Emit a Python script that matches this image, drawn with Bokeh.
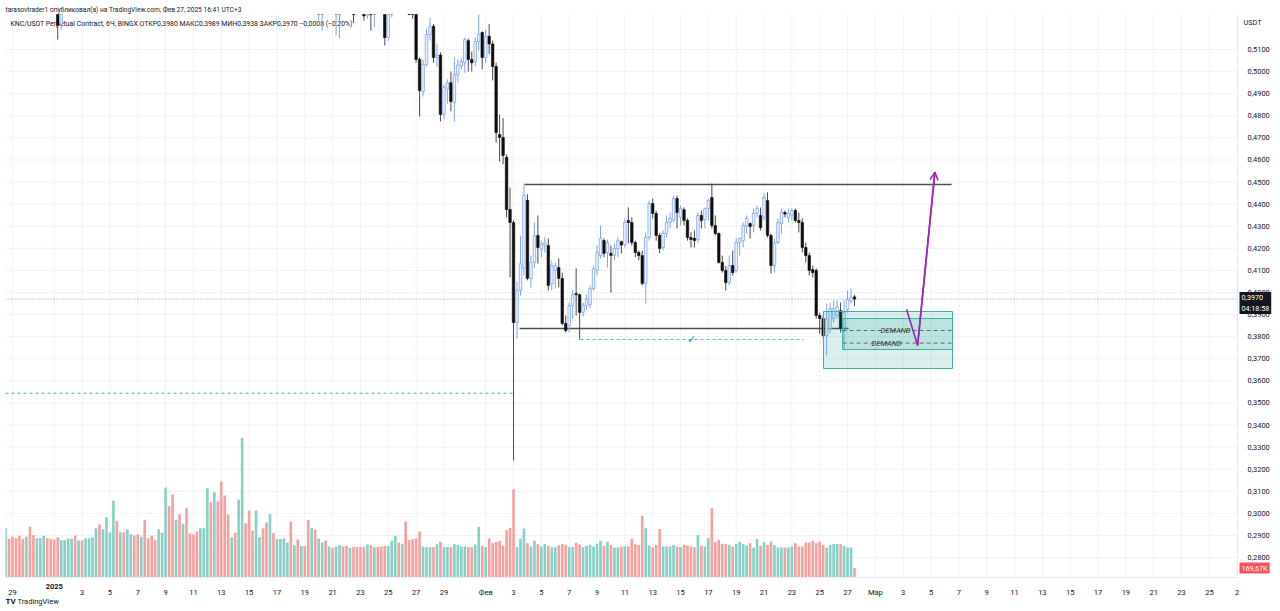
import pandas as pd
from bokeh.plotting import figure
from bokeh.models import (Range1d, FixedTicker, CustomJSTickFormatter, Label, LinearAxis,
                          Arrow, OpenHead, ColumnDataSource)
from bokeh.core.properties import value
from bokeh.embed import file_html
from bokeh.resources import INLINE

# ---------------- data ----------------
first_bar = "2024-12-28 15:00"   # 6h bars (UTC+3), first bar of each day opens 03:00
day_zero = "2024-12-29 00:00"
first_bar_of_day = 0.125         # 03:00 as a fraction of a day (where date labels sit)

opens = [
    0.5480, 0.5520, 0.5490, 0.5455, 0.5430, 0.5395, 0.5370, 0.5415, 0.5360, 0.5330,
    0.5365, 0.5410, 0.5425, 0.5350, 0.5320, 0.5290, 0.5215, 0.5310, 0.5380, 0.5395,
    0.5420, 0.5395, 0.5450, 0.5425, 0.5470, 0.5480, 0.5490, 0.5560, 0.5510, 0.5570,
    0.5650, 0.5690, 0.5840, 0.5760, 0.5775, 0.5680, 0.5730, 0.5770, 0.5740, 0.5700,
    0.5715, 0.5590, 0.5560, 0.5530, 0.5500, 0.5560, 0.5600, 0.5780, 0.5680, 0.5570,
    0.5620, 0.5570, 0.5610, 0.5540, 0.5510, 0.5480, 0.5450, 0.5490, 0.5530, 0.5710,
    0.5630, 0.5720, 0.5640, 0.5510, 0.5440, 0.5400, 0.5430, 0.5400, 0.5510, 0.5860,
    0.5750, 0.5680, 0.5650, 0.5730, 0.5760, 0.5710, 0.5650, 0.5710, 0.5670, 0.5690,
    0.5720, 0.5730, 0.5740, 0.5560, 0.5590, 0.5520, 0.5540, 0.5490, 0.5400, 0.5430,
    0.5350, 0.5380, 0.5400, 0.5340, 0.5370, 0.5355, 0.5370, 0.5385, 0.5340, 0.5320,
    0.5330, 0.5290, 0.5285, 0.5280, 0.5252, 0.5300, 0.5275, 0.5310, 0.5295, 0.5285,
    0.5154, 0.5290, 0.5320, 0.5330, 0.5300, 0.5330, 0.5290, 0.5275, 0.5260, 0.5055,
    0.4910, 0.5032, 0.5168, 0.5205, 0.5064, 0.5075, 0.4806, 0.4920, 0.4950, 0.4860,
    0.4985, 0.5025, 0.5040, 0.5140, 0.5055, 0.5045, 0.5136, 0.5177, 0.5064, 0.5160,
    0.5125, 0.5023, 0.4715, 0.4702, 0.4612, 0.4376, 0.4317, 0.3864, 0.4010, 0.4110,
    0.4417, 0.4064, 0.4136, 0.4258, 0.4195, 0.4215, 0.4213, 0.4040, 0.4100, 0.4113,
    0.4064, 0.3860, 0.3851, 0.3940, 0.3995, 0.3990, 0.3910, 0.3940, 0.3945, 0.4018,
    0.4100, 0.4167, 0.4235, 0.4180, 0.4177, 0.4168, 0.4199, 0.4230, 0.4217, 0.4326,
    0.4317, 0.4226, 0.4181, 0.4167, 0.4041, 0.4249, 0.4403, 0.4358, 0.4258, 0.4204,
    0.4267, 0.4317, 0.4326, 0.4426, 0.4340, 0.4375, 0.4326, 0.4249, 0.4245, 0.4240,
    0.4349, 0.4330, 0.4380, 0.4430, 0.4303, 0.4267, 0.4136, 0.4100, 0.4045, 0.4122,
    0.4100, 0.4226, 0.4235, 0.4300, 0.4312, 0.4303, 0.4358, 0.4349, 0.4340, 0.4416,
    0.4258, 0.4122, 0.4226, 0.4312, 0.4362, 0.4340, 0.4350, 0.4371, 0.4326, 0.4317,
    0.4204, 0.4167, 0.4104, 0.4100, 0.3896, 0.3882, 0.3805, 0.3837, 0.3882, 0.3896,
    0.3918, 0.3841, 0.3923, 0.3960, 0.3980,
]
highs = [
    0.5545, 0.5540, 0.5510, 0.5475, 0.5450, 0.5420, 0.5440, 0.5430, 0.5380, 0.5390,
    0.5430, 0.5440, 0.5435, 0.5365, 0.5340, 0.5310, 0.5335, 0.5400, 0.5410, 0.5440,
    0.5435, 0.5470, 0.5465, 0.5490, 0.5495, 0.5510, 0.5590, 0.5585, 0.5600, 0.5680,
    0.5720, 0.5900, 0.5870, 0.5795, 0.5790, 0.5750, 0.5800, 0.5790, 0.5755, 0.5730,
    0.5725, 0.5605, 0.5575, 0.5545, 0.5580, 0.5625, 0.5840, 0.5810, 0.5700, 0.5645,
    0.5635, 0.5630, 0.5625, 0.5555, 0.5525, 0.5495, 0.5510, 0.5550, 0.5760, 0.5740,
    0.5770, 0.5745, 0.5660, 0.5525, 0.5455, 0.5450, 0.5445, 0.5530, 0.5950, 0.5890,
    0.5770, 0.5695, 0.5750, 0.5780, 0.5775, 0.5725, 0.5730, 0.5725, 0.5710, 0.5740,
    0.5745, 0.5760, 0.5750, 0.5610, 0.5600, 0.5560, 0.5550, 0.5500, 0.5450, 0.5440,
    0.5400, 0.5420, 0.5410, 0.5390, 0.5400, 0.5390, 0.5400, 0.5395, 0.5355, 0.5345,
    0.5340, 0.5305, 0.5300, 0.5295, 0.5320, 0.5315, 0.5330, 0.5340, 0.5310, 0.5300,
    0.5310, 0.5340, 0.5350, 0.5340, 0.5350, 0.5345, 0.5310, 0.5295, 0.5275, 0.5064,
    0.5055, 0.5195, 0.5245, 0.5215, 0.5125, 0.5087, 0.4942, 0.4965, 0.5000, 0.5064,
    0.5055, 0.5060, 0.5154, 0.5150, 0.5091, 0.5154, 0.5262, 0.5182, 0.5190, 0.5215,
    0.5140, 0.5040, 0.4806, 0.4790, 0.4625, 0.4475, 0.4326, 0.4050, 0.4258, 0.4493,
    0.4445, 0.4167, 0.4317, 0.4349, 0.4235, 0.4250, 0.4245, 0.4145, 0.4136, 0.4154,
    0.4090, 0.3896, 0.3955, 0.4010, 0.4109, 0.3995, 0.3955, 0.3990, 0.4032, 0.4122,
    0.4213, 0.4303, 0.4245, 0.4240, 0.4213, 0.4222, 0.4249, 0.4235, 0.4335, 0.4385,
    0.4340, 0.4235, 0.4190, 0.4190, 0.4272, 0.4416, 0.4425, 0.4370, 0.4270, 0.4281,
    0.4349, 0.4362, 0.4439, 0.4439, 0.4394, 0.4385, 0.4335, 0.4272, 0.4281, 0.4362,
    0.4371, 0.4385, 0.4425, 0.4493, 0.4349, 0.4272, 0.4167, 0.4120, 0.4167, 0.4190,
    0.4245, 0.4249, 0.4317, 0.4349, 0.4317, 0.4380, 0.4394, 0.4385, 0.4448, 0.4453,
    0.4267, 0.4245, 0.4335, 0.4380, 0.4371, 0.4380, 0.4380, 0.4380, 0.4362, 0.4335,
    0.4226, 0.4181, 0.4122, 0.4109, 0.3909, 0.3896, 0.3950, 0.3955, 0.3964, 0.3964,
    0.3955, 0.3964, 0.4009, 0.4018, 0.3989,
]
lows = [
    0.5460, 0.5470, 0.5440, 0.5410, 0.5380, 0.5350, 0.5355, 0.5340, 0.5310, 0.5315,
    0.5350, 0.5395, 0.5335, 0.5300, 0.5275, 0.5145, 0.5190, 0.5290, 0.5350, 0.5380,
    0.5375, 0.5380, 0.5405, 0.5410, 0.5440, 0.5460, 0.5470, 0.5490, 0.5495, 0.5550,
    0.5630, 0.5670, 0.5730, 0.5720, 0.5655, 0.5660, 0.5715, 0.5720, 0.5680, 0.5670,
    0.5570, 0.5540, 0.5510, 0.5480, 0.5485, 0.5545, 0.5590, 0.5660, 0.5540, 0.5555,
    0.5550, 0.5555, 0.5520, 0.5490, 0.5460, 0.5430, 0.5435, 0.5475, 0.5515, 0.5610,
    0.5615, 0.5620, 0.5480, 0.5420, 0.5380, 0.5385, 0.5380, 0.5390, 0.5500, 0.5730,
    0.5660, 0.5630, 0.5635, 0.5715, 0.5690, 0.5630, 0.5635, 0.5650, 0.5655, 0.5675,
    0.5690, 0.5700, 0.5540, 0.5545, 0.5500, 0.5480, 0.5455, 0.5380, 0.5385, 0.5330,
    0.5230, 0.5186, 0.5320, 0.5325, 0.5330, 0.5163, 0.5150, 0.5320, 0.5300, 0.5290,
    0.5220, 0.5265, 0.5262, 0.5231, 0.5240, 0.5186, 0.5200, 0.5280, 0.5265, 0.5118,
    0.5140, 0.5245, 0.5300, 0.5280, 0.5285, 0.5270, 0.5255, 0.5240, 0.5040, 0.4797,
    0.4887, 0.5023, 0.5140, 0.5040, 0.5020, 0.4774, 0.4783, 0.4855, 0.4820, 0.4774,
    0.4950, 0.5010, 0.4995, 0.5000, 0.5000, 0.5023, 0.5095, 0.5010, 0.5040, 0.5080,
    0.4960, 0.4679, 0.4593, 0.4580, 0.4340, 0.4068, 0.3240, 0.3790, 0.3986, 0.4077,
    0.4055, 0.4023, 0.4109, 0.4131, 0.4160, 0.4180, 0.4009, 0.4009, 0.4018, 0.4023,
    0.3851, 0.3819, 0.3819, 0.3880, 0.3896, 0.3787, 0.3890, 0.3920, 0.3928, 0.4009,
    0.4077, 0.4154, 0.4159, 0.4113, 0.4000, 0.4145, 0.4160, 0.4177, 0.4204, 0.4222,
    0.4213, 0.4159, 0.4145, 0.4032, 0.3950, 0.4235, 0.4335, 0.4235, 0.4177, 0.4190,
    0.4249, 0.4290, 0.4317, 0.4290, 0.4303, 0.4303, 0.4235, 0.4204, 0.4204, 0.4225,
    0.4290, 0.4290, 0.4326, 0.4290, 0.4258, 0.4131, 0.4090, 0.4009, 0.4032, 0.4077,
    0.4090, 0.4167, 0.4204, 0.4267, 0.4244, 0.4272, 0.4340, 0.4281, 0.4326, 0.4249,
    0.4086, 0.4090, 0.4220, 0.4267, 0.4340, 0.4317, 0.4326, 0.4317, 0.4272, 0.4181,
    0.4136, 0.4077, 0.4068, 0.3882, 0.3814, 0.3792, 0.3715, 0.3814, 0.3864, 0.3882,
    0.3819, 0.3737, 0.3909, 0.3950, 0.3938,
]
closes = [
    0.5520, 0.5490, 0.5455, 0.5430, 0.5395, 0.5370, 0.5415, 0.5360, 0.5330, 0.5365,
    0.5410, 0.5425, 0.5350, 0.5320, 0.5290, 0.5210, 0.5310, 0.5380, 0.5395, 0.5420,
    0.5395, 0.5450, 0.5425, 0.5470, 0.5480, 0.5490, 0.5560, 0.5510, 0.5570, 0.5650,
    0.5690, 0.5840, 0.5760, 0.5775, 0.5680, 0.5730, 0.5770, 0.5740, 0.5700, 0.5715,
    0.5590, 0.5560, 0.5530, 0.5500, 0.5560, 0.5600, 0.5780, 0.5680, 0.5570, 0.5620,
    0.5570, 0.5610, 0.5540, 0.5510, 0.5480, 0.5450, 0.5490, 0.5530, 0.5710, 0.5630,
    0.5720, 0.5640, 0.5510, 0.5440, 0.5400, 0.5430, 0.5400, 0.5510, 0.5860, 0.5750,
    0.5680, 0.5650, 0.5730, 0.5760, 0.5710, 0.5650, 0.5710, 0.5670, 0.5690, 0.5720,
    0.5730, 0.5740, 0.5560, 0.5590, 0.5520, 0.5540, 0.5490, 0.5400, 0.5430, 0.5350,
    0.5380, 0.5400, 0.5340, 0.5370, 0.5355, 0.5370, 0.5385, 0.5340, 0.5320, 0.5330,
    0.5290, 0.5285, 0.5280, 0.5252, 0.5300, 0.5275, 0.5310, 0.5295, 0.5285, 0.5154,
    0.5290, 0.5320, 0.5330, 0.5300, 0.5330, 0.5290, 0.5275, 0.5260, 0.5055, 0.4914,
    0.5032, 0.5168, 0.5205, 0.5064, 0.5075, 0.4806, 0.4928, 0.4950, 0.4865, 0.4987,
    0.5030, 0.5045, 0.5145, 0.5055, 0.5040, 0.5136, 0.5168, 0.5064, 0.5160, 0.5125,
    0.5023, 0.4724, 0.4702, 0.4620, 0.4376, 0.4317, 0.3864, 0.4010, 0.4130, 0.4439,
    0.4064, 0.4136, 0.4258, 0.4204, 0.4220, 0.4225, 0.4032, 0.4122, 0.4122, 0.4064,
    0.3860, 0.3828, 0.3941, 0.3990, 0.3990, 0.3910, 0.3940, 0.3970, 0.4018, 0.4109,
    0.4181, 0.4244, 0.4177, 0.4226, 0.4168, 0.4199, 0.4235, 0.4215, 0.4317, 0.4317,
    0.4226, 0.4181, 0.4167, 0.4041, 0.4249, 0.4403, 0.4358, 0.4258, 0.4199, 0.4267,
    0.4317, 0.4335, 0.4426, 0.4362, 0.4380, 0.4326, 0.4249, 0.4240, 0.4235, 0.4349,
    0.4326, 0.4380, 0.4416, 0.4303, 0.4267, 0.4136, 0.4100, 0.4045, 0.4122, 0.4090,
    0.4226, 0.4245, 0.4303, 0.4335, 0.4299, 0.4358, 0.4380, 0.4294, 0.4430, 0.4258,
    0.4122, 0.4226, 0.4317, 0.4362, 0.4355, 0.4358, 0.4371, 0.4326, 0.4317, 0.4204,
    0.4167, 0.4100, 0.4090, 0.3896, 0.3882, 0.3805, 0.3880, 0.3927, 0.3927, 0.3937,
    0.3837, 0.3909, 0.3968, 0.3978, 0.3970,
]
volume_k = [
    898, 704, 741, 716, 759, 704, 741, 923, 771, 716,
    716, 759, 716, 704, 692, 734, 680, 680, 704, 704,
    765, 680, 680, 716, 716, 728, 898, 965, 880, 1099,
    819, 1402, 1032, 826, 826, 874, 789, 765, 789, 741,
    1050, 716, 759, 686, 880, 813, 1639, 1299, 1511, 1050,
    1153, 977, 1269, 801, 789, 838, 898, 898, 1627, 1372,
    1554, 1384, 1748, 1493, 1141, 734, 813, 1414, 2540, 989,
    1214, 850, 1220, 734, 898, 1002, 1153, 807, 698, 698,
    710, 637, 1020, 589, 692, 571, 571, 1050, 898, 868,
    710, 637, 668, 565, 540, 565, 589, 565, 577, 540,
    558, 558, 558, 558, 601, 589, 552, 558, 565, 571,
    571, 668, 759, 637, 613, 1020, 680, 698, 716, 838,
    565, 552, 553, 553, 607, 649, 553, 553, 553, 613,
    589, 565, 565, 553, 553, 601, 922, 577, 553, 708,
    625, 649, 666, 577, 863, 904, 1607, 553, 708, 893,
    625, 565, 672, 607, 565, 613, 577, 553, 553, 589,
    613, 595, 553, 553, 631, 601, 553, 577, 595, 565,
    613, 668, 577, 649, 595, 546, 546, 558, 565, 565,
    704, 607, 595, 1129, 898, 583, 546, 589, 880, 565,
    565, 565, 595, 558, 552, 595, 577, 565, 552, 771,
    583, 565, 716, 1263, 643, 686, 613, 613, 595, 565,
    613, 649, 607, 583, 625, 546, 698, 577, 643, 595,
    656, 589, 546, 546, 546, 546, 565, 625, 565, 565,
    637, 637, 668, 625, 656, 595, 546, 589, 607, 613,
    607, 577, 546, 546, 169.67,
]

price_ticks = [0.28, 0.29, 0.30, 0.31, 0.32, 0.33, 0.34, 0.35, 0.36, 0.37, 0.38, 0.39,
               0.40, 0.41, 0.42, 0.43, 0.44, 0.45, 0.46, 0.47, 0.48, 0.49, 0.50, 0.51]
tick_days = [0, 3, 5, 7, 9, 11, 13, 15, 17, 19, 21, 23, 25, 27, 29, 31,
             34, 36, 38, 40, 42, 44, 46, 48, 50, 52, 54, 56, 58, 60,
             62, 64, 66, 68, 70, 72, 74, 76, 78, 80, 82, 84, 86, 88]
tick_labels = ["29", "2025", "3", "5", "7", "9", "11", "13", "15", "17", "19", "21", "23", "25", "27", "29",
               "Фев", "3", "5", "7", "9", "11", "13", "15", "17", "19", "21", "23", "25", "27",
               "Мар", "3", "5", "7", "9", "11", "13", "15", "17", "19", "21", "23", "25", "2"]
bold_tick = "2025"

last_close = 0.3970
last_close_text = "0,3970"
countdown = "04:18:58"
last_volume_text = "169,67K"

range_high = 0.4489
range_high_days = [36.92, 67.60]
range_low = 0.3837
range_low_days = [36.56, 60.20]
swept_level = 0.3787
swept_days = [40.94, 56.97]
swept_mark_day = 48.92
old_low_level = 0.3544
old_low_days = [-0.378, 36.06]
demand_left = [58.40, 59.77]
demand_right = [67.67, 67.67]
demand_bottom = [0.3656, 0.3742]
demand_top = [0.3914, 0.3882]
demand_lines = [0.3828, 0.3771]
demand_label_days = [63.58, 62.93]
arrow_days = [64.37, 65.16, 66.40]
arrow_prices = [0.3923, 0.3760, 0.4545]

header_1 = "tarasovtrader1 опубликовал(а) на TradingView.com, Фев 27, 2025 16:41 UTC+3"
header_2 = ("KNC/USDT Perpetual Contract, 6Ч, BINGX  ОТКР0,3980  МАКС0,3989  "
            "МИН0,3938  ЗАКР0,3970  \u22120,0008 (\u22120,20%)")

# ---------------- layout ----------------
W, H = 1280, 611
# chart pane in canvas pixels, and the data values at its edges
PL, PR, PT, PB = 5, 1237, 14, 577
X_PL, X_PR = -0.378, 88.145
Y_PT, Y_PB = 0.52584, 0.27098
VOL_PANE = 10250  # volume (K) spanning the pane height
FONT = "Roboto"
TXT = "#131722"

XPX = (X_PR - X_PL) / (PR - PL)
YPX = (Y_PT - Y_PB) / (PB - PT)
VPX = VOL_PANE / (PB - PT)


def dx(px):
    return X_PL + (px - PL) * XPX


def dy(py):
    return Y_PT - (py - PT) * YPX


times = pd.date_range(first_bar, periods=len(closes), freq="6h")
xs = ((times - pd.Timestamp(day_zero)) / pd.Timedelta(days=1)).tolist()
up = [c >= o for o, c in zip(opens, closes)]
tick_x = [d + first_bar_of_day for d in tick_days]

# the plotting frame covers the whole canvas; the chart pane is bounded with masks
p = figure(width=W, height=H, output_backend="svg", toolbar_location=None,
           x_range=Range1d(dx(0), dx(W)), y_range=Range1d(dy(H), dy(0)),
           x_axis_location=None, y_axis_location=None,
           min_border=0, min_border_left=0, min_border_right=0,
           min_border_top=0, min_border_bottom=0)
p.outline_line_color = None
p.background_fill_color = "white"
p.border_fill_color = "white"
p.xgrid.visible = False
p.ygrid.visible = False
p.extra_y_ranges = {"vol": Range1d(-(H - PB) * VPX, PB * VPX)}

# grid
GRID = "#f0f2f6"
p.segment(x0=tick_x, y0=[Y_PB] * len(tick_x), x1=tick_x, y1=[Y_PT] * len(tick_x),
          line_color=GRID, line_width=1)
p.segment(x0=[X_PL] * len(price_ticks), y0=price_ticks, x1=[X_PR] * len(price_ticks), y1=price_ticks,
          line_color=GRID, line_width=1)

# legend line of the chart (drawn under the candles, as in the original)
p.text(x=[dx(10)], y=[dy(23)], text=[header_2], text_baseline="middle", text_align="left",
       text_font=value(FONT), text_font_size="6.9px", text_color=TXT)

# volume
vol_colors = ["#86d0c6" if u else "#f6a1a1" for u in up]
p.vbar(x=xs, top=volume_k, bottom=0, width=0.19, fill_color=vol_colors,
       line_color=None, y_range_name="vol")

# reference lines
p.segment(x0=[old_low_days[0]], y0=[old_low_level], x1=[old_low_days[1]], y1=[old_low_level],
          line_color="#48b8c8", line_dash="3 3", line_width=1)
p.segment(x0=[swept_days[0]], y0=[swept_level], x1=[swept_days[1]], y1=[swept_level],
          line_color="#48b8c8", line_dash="3 3", line_width=1)
p.segment(x0=[X_PL], y0=[last_close], x1=[X_PR], y1=[last_close],
          line_color="#9598a1", line_dash="1 2", line_width=1)
p.segment(x0=[range_high_days[0], range_low_days[0]], y0=[range_high, range_low],
          x1=[range_high_days[1], range_low_days[1]], y1=[range_high, range_low],
          line_color="#4d4d4d", line_width=1.4)


# candles, cut at the top edge of the chart pane (bars entirely above it are not drawn)
def pane(v):
    return min(v, Y_PT)


def candle_source(flag):
    keep = [i for i in range(len(closes)) if up[i] == flag and lows[i] < Y_PT]
    return ColumnDataSource(dict(
        x=[xs[i] for i in keep],
        o=[pane(opens[i]) for i in keep],
        h=[pane(highs[i]) for i in keep],
        l=[lows[i] for i in keep],
        c=[pane(closes[i]) for i in keep],
    ))


up_src = candle_source(True)
dn_src = candle_source(False)
p.segment(x0="x", y0="h", x1="x", y1="l", source=dn_src, line_color="#4a4a4a", line_width=1)
p.segment(x0="x", y0="h", x1="x", y1="l", source=up_src, line_color="#7fa4ee", line_width=1)
p.vbar(x="x", top="o", bottom="c", width=0.18, source=dn_src, fill_color="#0e0e0e",
       line_color="#0e0e0e", line_width=0.6)
p.vbar(x="x", top="c", bottom="o", width=0.18, source=up_src, fill_color="#eef3fd",
       line_color="#7fa4ee", line_width=0.8)

# demand zones
p.quad(left=demand_left, right=demand_right, bottom=demand_bottom, top=demand_top,
       fill_color="#26a69a", fill_alpha=0.17, line_color="#3fae9f", line_width=1)
p.segment(x0=[demand_left[1]] * 2, y0=demand_lines, x1=[demand_right[1]] * 2, y1=demand_lines,
          line_color="#666666", line_dash="4 3", line_width=1)

# projected move
p.line(arrow_days, arrow_prices, line_color="#9c27b0", line_width=1.6)

# masks outside the chart pane: left edge and price scale
BIG = 3000
p.quad(left=[dx(-BIG), dx(PR)],
       right=[dx(PL), dx(W + BIG)],
       bottom=[dy(PB), dy(H + BIG)],
       top=[dy(PT), dy(-BIG)],
       fill_color="white", line_color=None)

# axes drawn at the pane edges
yaxis = LinearAxis(fixed_location=X_PR, ticker=FixedTicker(ticks=price_ticks),
                   formatter=CustomJSTickFormatter(code="return tick.toFixed(4).replace('.', ',');"),
                   bounds=(Y_PB, Y_PT))
xaxis = LinearAxis(fixed_location=Y_PB, ticker=FixedTicker(ticks=tick_x),
                   major_label_overrides={t: ("" if l == bold_tick else l)
                                          for t, l in zip(tick_x, tick_labels)},
                   bounds=(X_PL, X_PR))
for ax in (xaxis, yaxis):
    ax.major_tick_line_color = None
    ax.minor_tick_line_color = None
    ax.axis_line_color = "#e9ebf0"
    ax.major_label_text_font = FONT
    ax.major_label_text_color = TXT
    ax.major_label_standoff = 4
xaxis.major_label_text_font_size = "7.5px"
yaxis.major_label_text_font_size = "7.4px"
p.add_layout(yaxis, "right")
p.add_layout(xaxis, "below")

# annotations
for d, lvl in zip(demand_label_days, demand_lines):
    p.add_layout(Label(x=d, y=lvl, text="DEMAND", text_align="center", text_baseline="middle",
                       text_font=FONT, text_font_style="italic", text_font_size="7.5px",
                       text_color="#333333"))
p.add_layout(Arrow(end=OpenHead(size=8, line_color="#9c27b0", line_width=1.6),
                   x_start=arrow_days[1], y_start=arrow_prices[1],
                   x_end=arrow_days[2], y_end=arrow_prices[2],
                   line_color="#9c27b0", line_width=1.6))
p.add_layout(Label(x=swept_mark_day, y=swept_level, text="\u2713", text_align="center",
                   text_baseline="middle", text_font="DejaVu Sans", text_font_style="bold",
                   text_font_size="11px", text_color="#26a69a"))

p.add_layout(Label(x=dx(5), y=dy(9), text=header_1, text_baseline="middle", text_font=FONT,
                   text_font_size="6.6px", text_color=TXT))

p.add_layout(Label(x=tick_x[tick_labels.index(bold_tick)], y=dy(586), text=bold_tick,
                   text_align="center", text_baseline="middle", text_font=FONT,
                   text_font_style="bold", text_font_size="7.5px", text_color=TXT))

p.add_layout(Label(x=dx(1252), y=dy(22), text="USDT", text_align="center", text_baseline="middle",
                   text_font=FONT, text_font_size="7.2px", text_color=TXT))
p.add_layout(Label(x=dx(1239), y=dy(302.5), text=last_close_text + "\n" + countdown,
                   text_baseline="middle", text_font=FONT, text_font_size="7.2px",
                   text_color="white", background_fill_color="#131722", padding=(2, 1)))
p.add_layout(Label(x=dx(1239), y=dy(567.5), text=last_volume_text, text_baseline="middle",
                   text_font=FONT, text_font_size="7.2px", text_color="white",
                   background_fill_color="#f7525f", padding=(2, 1)))

p.add_layout(Label(x=dx(5), y=dy(601), text="TV", text_baseline="middle", text_font=FONT,
                   text_font_style="bold", text_font_size="8px", text_color=TXT))
p.add_layout(Label(x=dx(17), y=dy(601), text="TradingView", text_baseline="middle",
                   text_font=FONT, text_font_size="7.5px", text_color=TXT))

open("out.html", "w").write(file_html(p, INLINE))
